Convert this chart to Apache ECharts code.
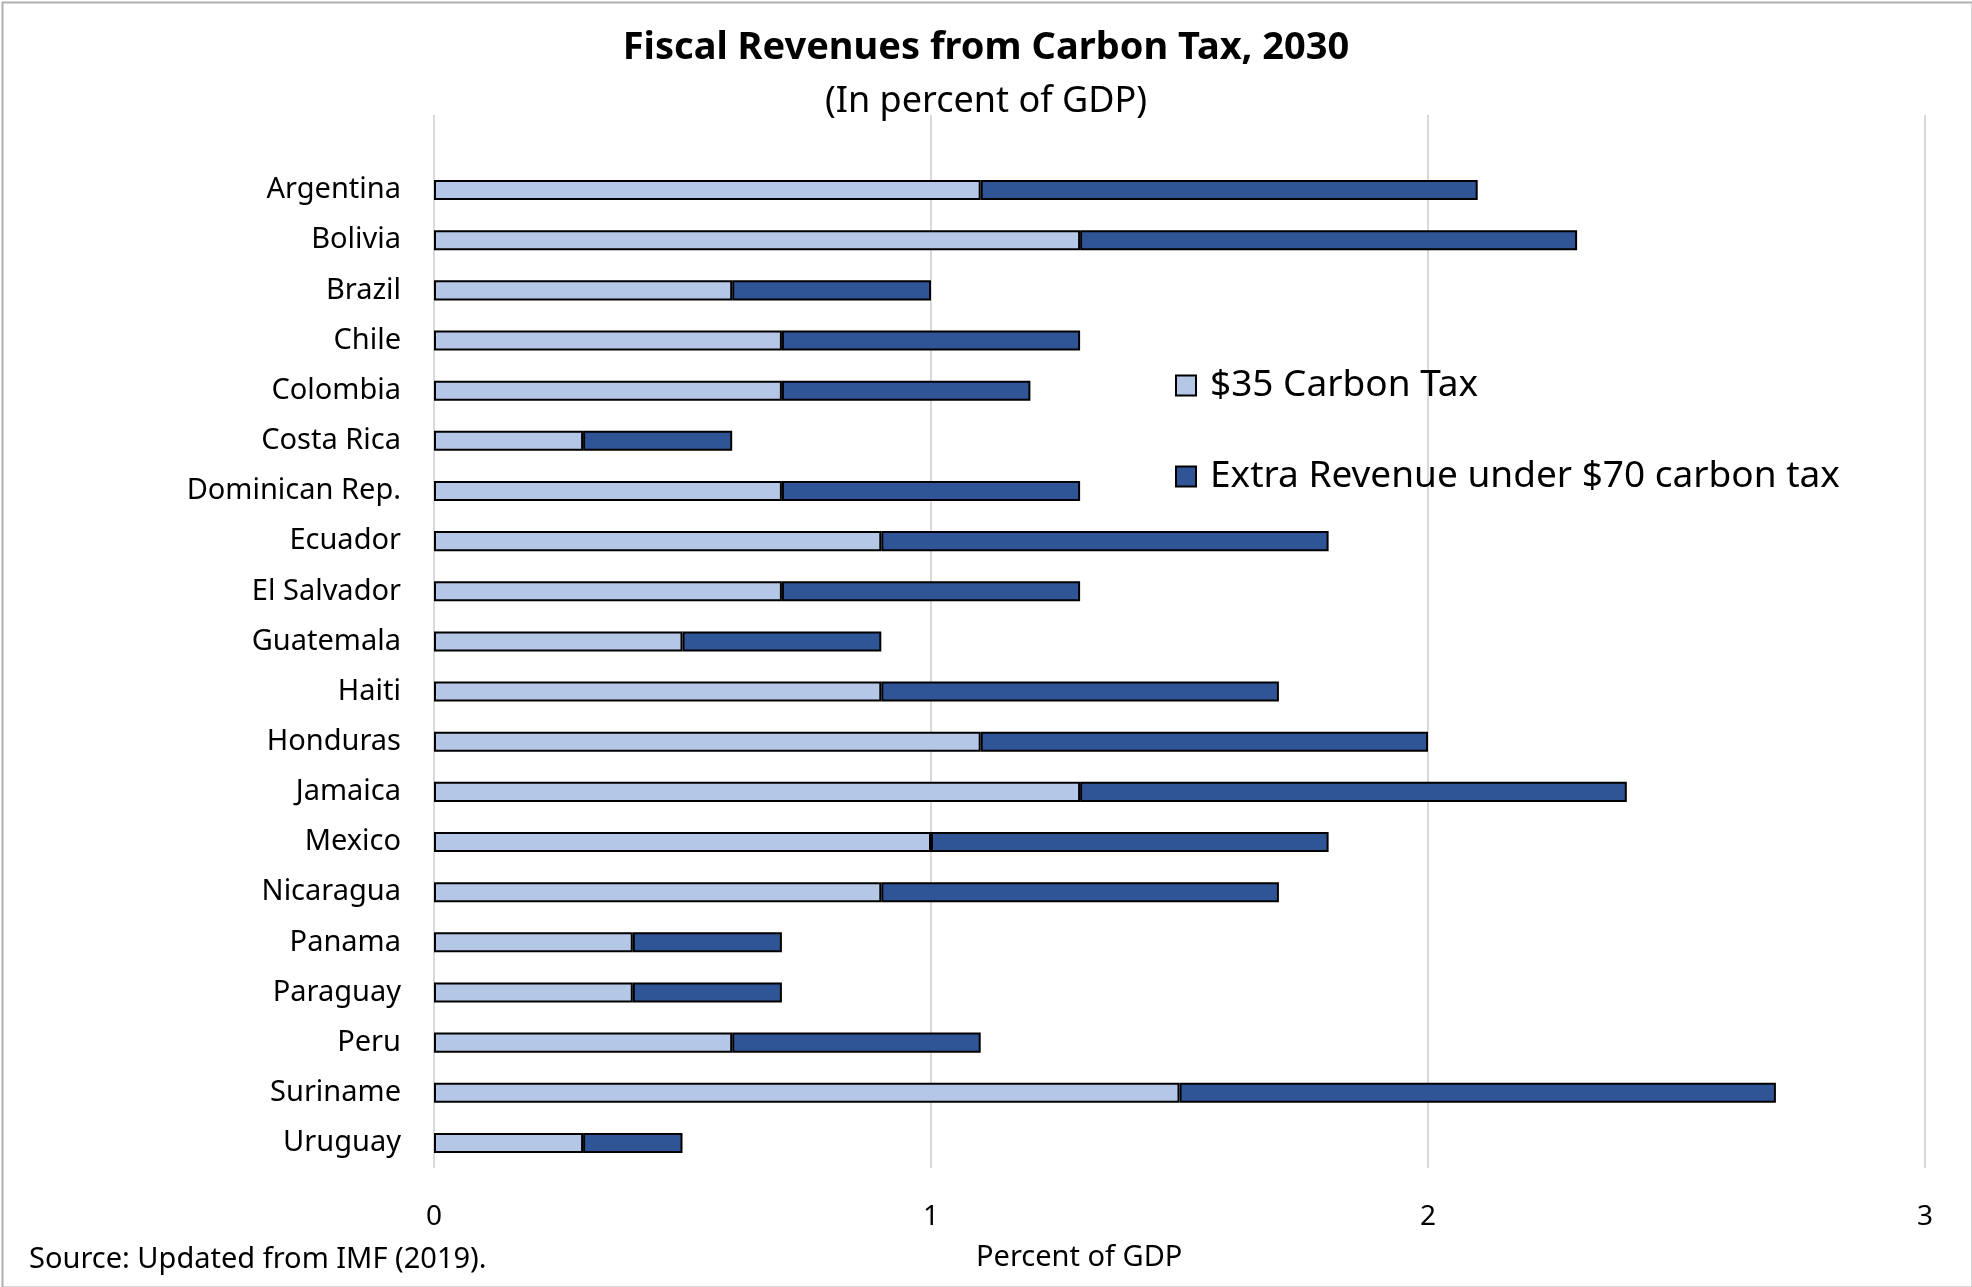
<!DOCTYPE html>
<html>
<head>
<meta charset="utf-8">
<title>Fiscal Revenues from Carbon Tax, 2030</title>
<script src="https://cdn.jsdelivr.net/npm/echarts@6/dist/echarts.min.js"></script>
<style>
  html, body { margin: 0; padding: 0; background: #fff; }
  #chart { width: 1972px; height: 1287px; }
</style>
</head>
<body>
<div id="chart"></div>
<script>
// categories, top to bottom
const countries = ['Argentina', 'Bolivia', 'Brazil', 'Chile', 'Colombia', 'Costa Rica',
  'Dominican Rep.', 'Ecuador', 'El Salvador', 'Guatemala', 'Haiti', 'Honduras', 'Jamaica',
  'Mexico', 'Nicaragua', 'Panama', 'Paraguay', 'Peru', 'Suriname', 'Uruguay']

// $35 carbon tax revenue, % of GDP
const tax35 = [1.1, 1.3, 0.6, 0.7, 0.7, 0.3, 0.7, 0.9, 0.7, 0.5,
  0.9, 1.1, 1.3, 1.0, 0.9, 0.4, 0.4, 0.6, 1.5, 0.3]

// extra revenue going from $35 to $70
const extra70 = [1.0, 1.0, 0.4, 0.6, 0.5, 0.3, 0.6, 0.9, 0.6, 0.4,
  0.8, 0.9, 1.1, 0.8, 0.8, 0.3, 0.3, 0.5, 1.2, 0.2]

const xTicks = { min: 0, max: 3, interval: 1 }

const font = "'Noto Sans', 'Open Sans', sans-serif"
const lightBlue = '#B4C7E7'
const darkBlue = '#2F5597'
const gridGray = '#D9D9D9'

const chart = echarts.init(document.getElementById('chart'), null, { renderer: 'canvas' })

const option = {
  backgroundColor: '#fff',
  animation: false,
  textStyle: { fontFamily: font, color: '#000' },
  title: [
    {
      text: 'Fiscal Revenues from Carbon Tax, 2030',
      left: 'center',
      top: 24,
      textStyle: { fontSize: 38, fontWeight: 'bold', color: '#000', fontFamily: font }
    },
    {
      text: '(In percent of GDP)',
      left: 'center',
      top: 79,
      textStyle: { fontSize: 36, fontWeight: 'normal', color: '#000', fontFamily: font }
    }
  ],
  legend: {
    orient: 'vertical',
    left: 1170,
    top: 362,
    itemWidth: 20,
    itemHeight: 20,
    itemGap: 54,
    icon: 'rect',
    textStyle: { fontSize: 37, color: '#000', fontFamily: font, padding: [0, 0, 0, 9] },
    data: ['$35 Carbon Tax', 'Extra Revenue under $70 carbon tax']
  },
  grid: [
    // gridlines + tick labels
    { left: 434, right: 47, top: 115, bottom: 119 },
    // bars
    { left: 434, right: 47, top: 165, bottom: 119 }
  ],
  xAxis: [
    {
      gridIndex: 0,
      type: 'value',
      min: xTicks.min,
      max: xTicks.max,
      interval: xTicks.interval,
      axisLine: { show: false },
      axisTick: { show: false },
      axisLabel: { fontSize: 28, color: '#000', margin: 35, fontFamily: font },
      splitLine: { show: true, lineStyle: { color: gridGray, width: 2 } }
    },
    {
      gridIndex: 1,
      type: 'value',
      min: xTicks.min,
      max: xTicks.max,
      interval: xTicks.interval,
      show: false
    }
  ],
  yAxis: [
    { gridIndex: 0, type: 'value', show: false, min: 0, max: 1 },
    {
      gridIndex: 1,
      type: 'category',
      inverse: true,
      data: countries,
      axisLine: { show: false },
      axisTick: { show: false },
      axisLabel: { fontSize: 29, color: '#000', margin: 33, fontFamily: font, padding: [3, 0, 0, 0] }
    }
  ],
  series: [
    {
      name: '$35 Carbon Tax',
      type: 'bar',
      stack: 'rev',
      xAxisIndex: 1,
      yAxisIndex: 1,
      barWidth: '40%',
      itemStyle: { color: lightBlue, borderColor: '#000', borderWidth: 2 },
      data: tax35
    },
    {
      name: 'Extra Revenue under $70 carbon tax',
      type: 'bar',
      stack: 'rev',
      xAxisIndex: 1,
      yAxisIndex: 1,
      barWidth: '40%',
      itemStyle: { color: darkBlue, borderColor: '#000', borderWidth: 2 },
      data: extra70
    }
  ],
  graphic: [
    {
      type: 'text',
      left: 29,
      top: 1245,
      style: { text: 'Source: Updated from IMF (2019).', fontSize: 29, fill: '#000', fontFamily: font }
    },
    {
      type: 'text',
      left: 976,
      top: 1243,
      style: { text: 'Percent of GDP', fontSize: 29, fill: '#000', fontFamily: font }
    },
    {
      type: 'rect',
      left: 0,
      top: 0,
      shape: { width: 1970, height: 1285 },
      style: { fill: 'none', stroke: '#B0B0B0', lineWidth: 2 },
      silent: true
    }
  ]
}

chart.setOption(option)
</script>
</body>
</html>
